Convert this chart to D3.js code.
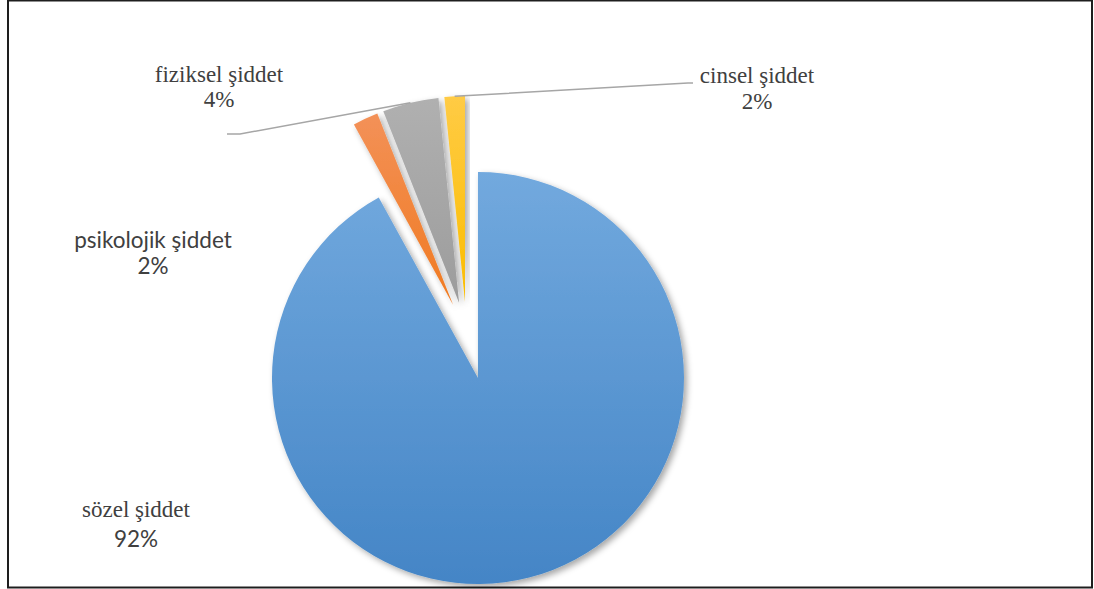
<!DOCTYPE html>
<html><head><meta charset="utf-8">
<script src="https://cdn.jsdelivr.net/npm/d3@7"></script>
<style>body{margin:0;background:#fff}svg{display:block}</style>
</head><body>
<svg id="chart" width="1094" height="589"></svg>
<script>
// ---- data ----
const categories = ["sözel şiddet", "psikolojik şiddet", "fiziksel şiddet", "cinsel şiddet"];
const values = [92, 2, 4.4, 1.6];
const percentLabels = ["92%", "2%", "4%", "2%"];
const colorsTop = ["#72a9de", "#f39158", "#b0b0b0", "#ffcb45"];
const colorsBottom = ["#4485c6", "#f07a20", "#9c9c9c", "#fbbd00"];

// ---- layout ----
const center = [466.6, 333.6];
const R = 206;
const explode = [45.8, 31.6, 31.6, 31.6];
const labelCfg = [
  {x: 136, y: 517, f1: "serif", f2: "sans", dy: 30, leader: false},
  {x: 153, y: 248, f1: "sans", f2: "sans", dy: 26, leader: false},
  {x: 219, y: 82, f1: "serif", f2: "serif", dy: 25, leader: true, lx: 227, ly: 134, hx: 240},
  {x: 757, y: 83, f1: "serif", f2: "serif", dy: 26, leader: true, lx: 693, ly: 83, hx: 688}
];
const fontFamilies = {serif: "Liberation Serif", sans: "Lato"};
const fontSizes = {serif: 23, sans: 22.5};

const svg = d3.select("#chart");
const defs = svg.append("defs");
const flt = defs.append("filter").attr("id", "sh").attr("x", "-20%").attr("y", "-20%").attr("width", "140%").attr("height", "140%");
flt.append("feDropShadow").attr("dx", 3).attr("dy", 3).attr("stdDeviation", 3)
  .attr("flood-color", "#000").attr("flood-opacity", 0.35);
categories.forEach((c, i) => {
  const g = defs.append("linearGradient").attr("id", "g" + i).attr("x1", 0).attr("y1", 0).attr("x2", 0).attr("y2", 1);
  g.append("stop").attr("offset", "0%").attr("stop-color", colorsTop[i]);
  g.append("stop").attr("offset", "100%").attr("stop-color", colorsBottom[i]);
});

svg.append("rect").attr("x", 8).attr("y", 0.5).attr("width", 1084).attr("height", 587)
  .attr("fill", "#fff").attr("stroke", "#1e1e1e").attr("stroke-width", 2);

const pie = d3.pie().sort(null).value(d => d).startAngle(0).endAngle(2 * Math.PI);
const arcs = pie(values);
const arc = d3.arc().innerRadius(0).outerRadius(R);

function offset(a, i) {
  const m = (a.startAngle + a.endAngle) / 2;
  return [center[0] + explode[i] * Math.sin(m), center[1] - explode[i] * Math.cos(m)];
}

const gSlices = svg.append("g");
arcs.forEach((a, i) => {
  const o = offset(a, i);
  gSlices.append("path")
    .attr("transform", `translate(${o[0]},${o[1]})`)
    .attr("d", arc(a))
    .attr("fill", `url(#g${i})`)
    .attr("filter", "url(#sh)");
});

// leader lines
arcs.forEach((a, i) => {
  const L = labelCfg[i];
  if (!L.leader) return;
  const o = offset(a, i);
  const m = (a.startAngle + a.endAngle) / 2;
  const px = o[0] + R * Math.sin(m), py = o[1] - R * Math.cos(m);
  svg.append("polyline")
    .attr("points", `${px},${py} ${L.hx},${L.ly} ${L.lx},${L.ly}`)
    .attr("fill", "none").attr("stroke", "#a6a6a6").attr("stroke-width", 1.5);
});

arcs.forEach((a, i) => {
  const L = labelCfg[i];
  const t = svg.append("g").attr("fill", "#404040").attr("text-anchor", "middle");
  t.append("text").attr("x", L.x).attr("y", L.y)
    .attr("font-family", fontFamilies[L.f1]).attr("font-size", fontSizes[L.f1]).text(categories[i]);
  t.append("text").attr("x", L.x).attr("y", L.y + L.dy)
    .attr("font-family", fontFamilies[L.f2]).attr("font-size", fontSizes[L.f2]).text(percentLabels[i]);
});
</script>
</body></html>
